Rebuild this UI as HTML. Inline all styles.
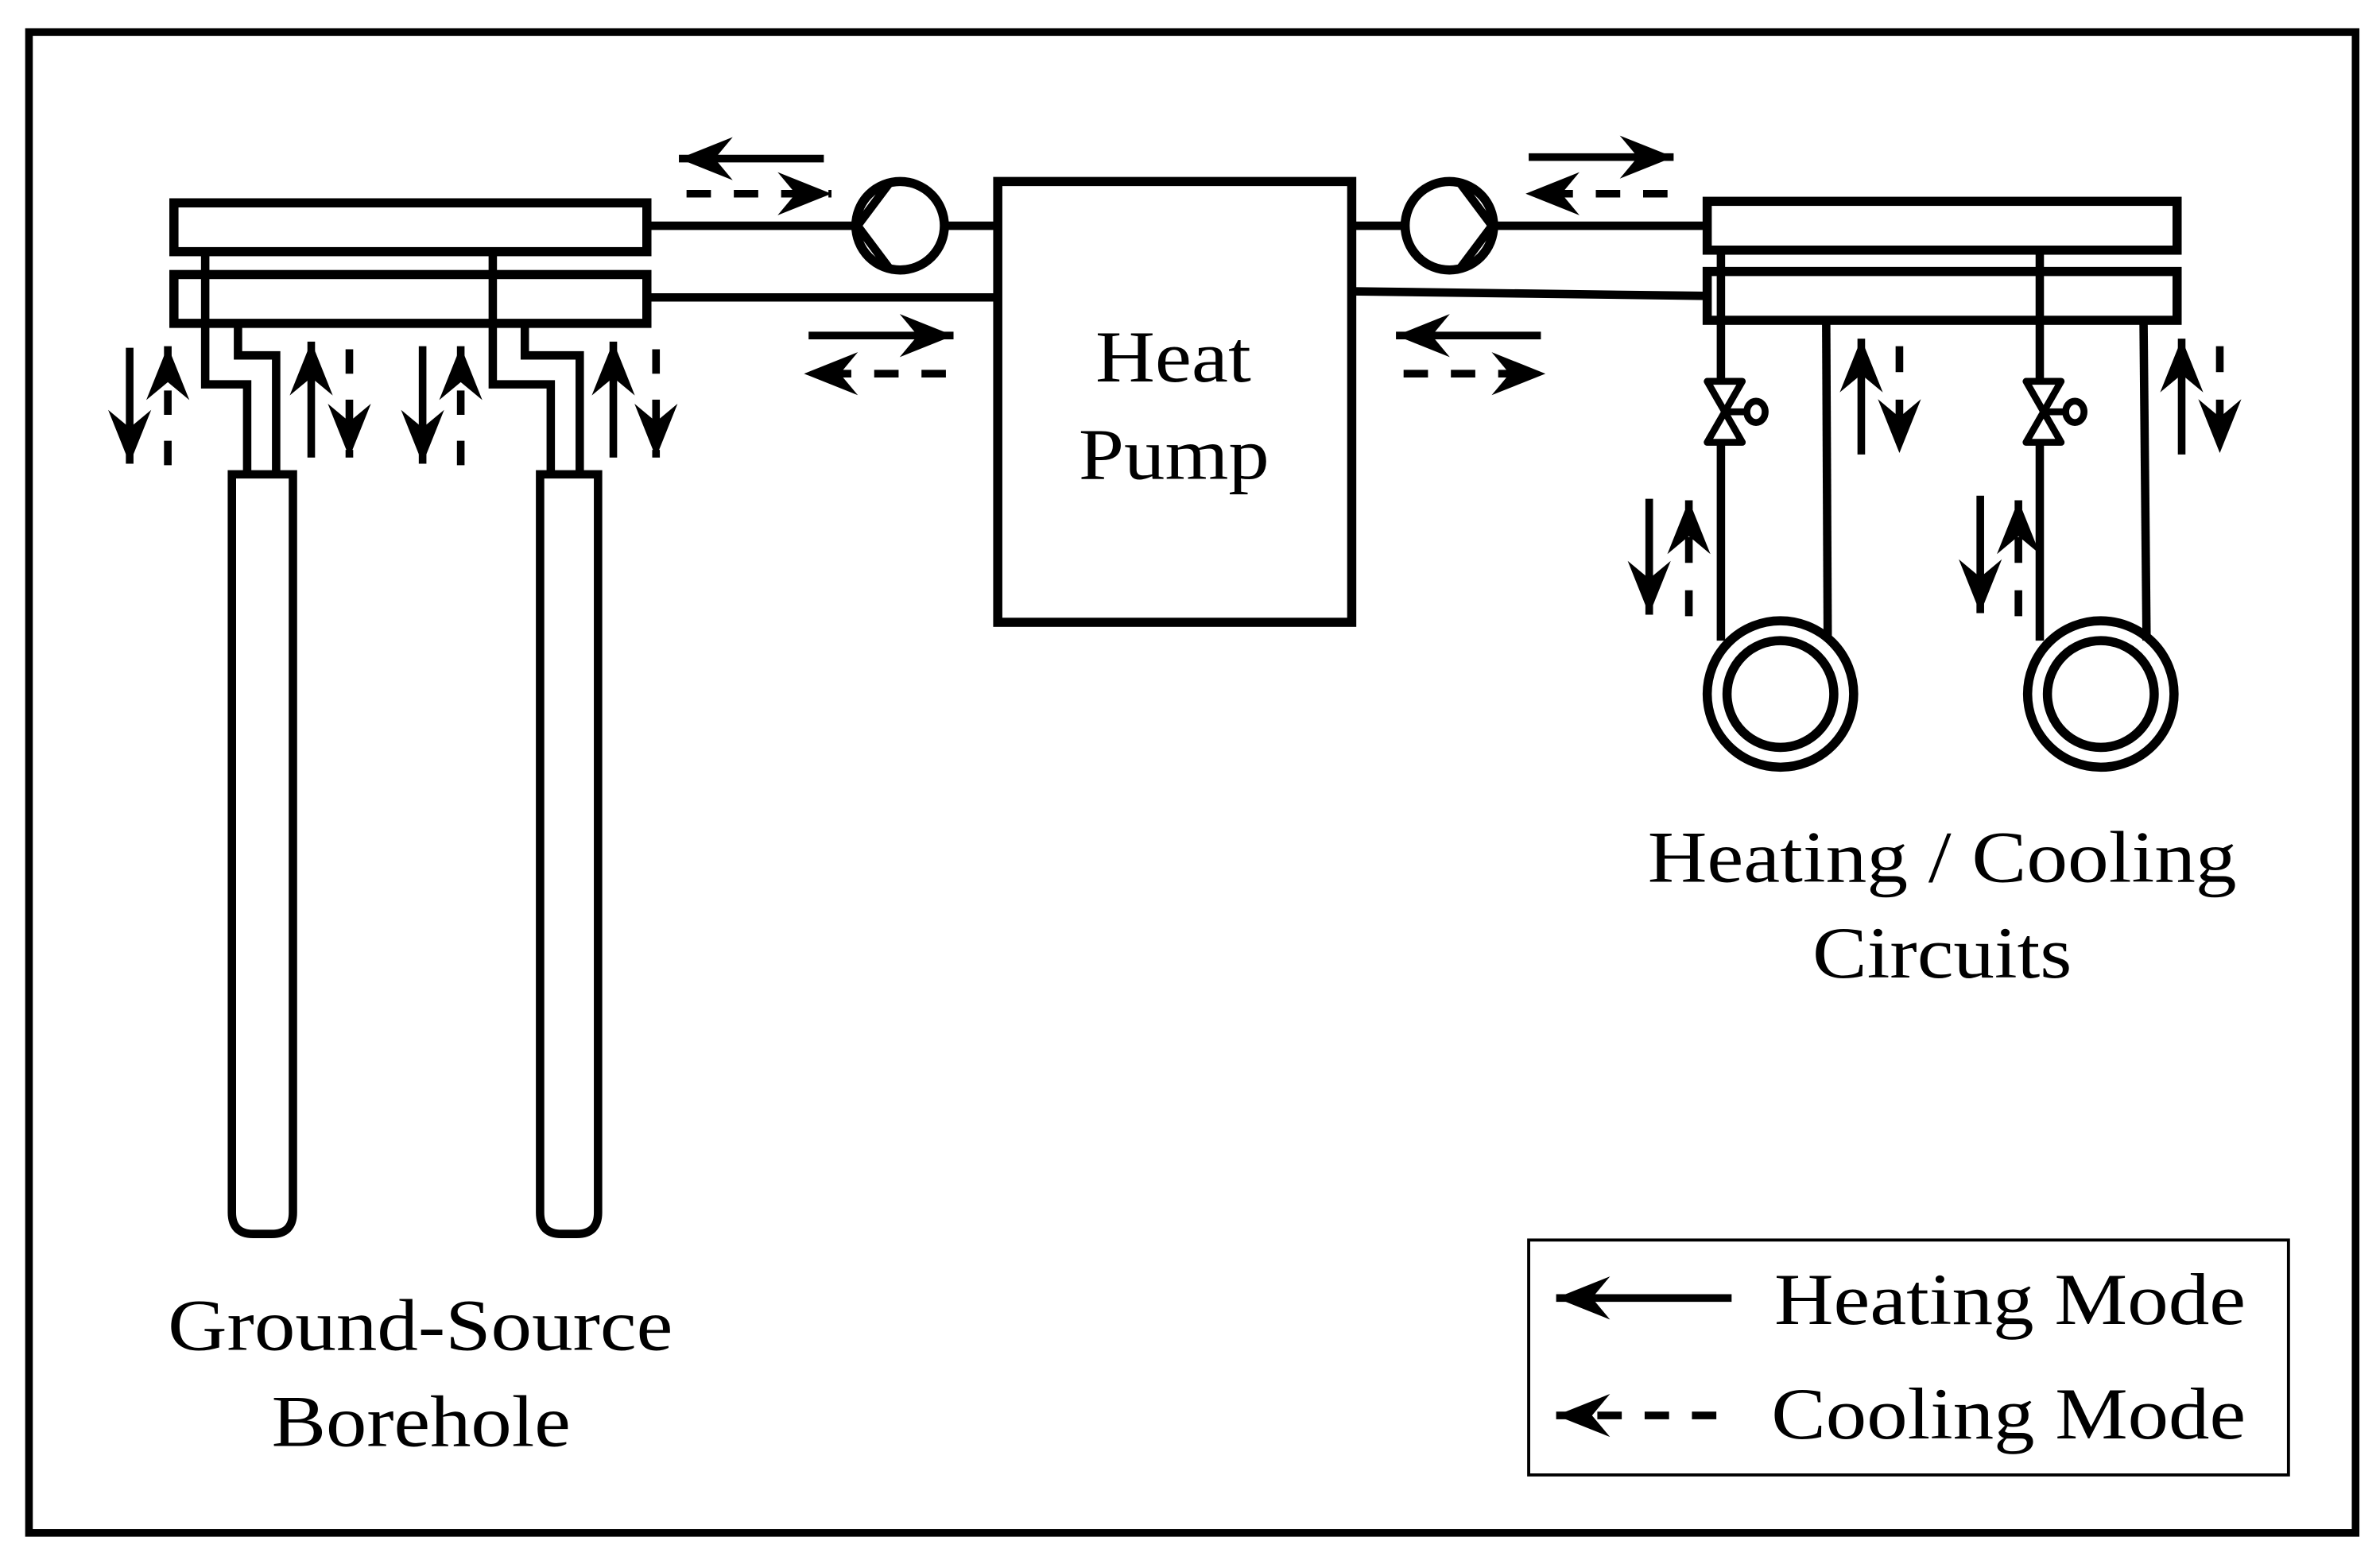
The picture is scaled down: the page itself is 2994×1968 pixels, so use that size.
<!DOCTYPE html>
<html><head><meta charset="utf-8"><style>
html,body{margin:0;padding:0;background:#fff;}
svg{display:block;}
text{font-family:"Liberation Serif",serif;fill:#000;}
</style></head><body>
<svg width="2994" height="1968" viewBox="0 0 1560 1025.4" preserveAspectRatio="none" xmlns="http://www.w3.org/2000/svg">
<defs>
<marker id="ah" markerUnits="userSpaceOnUse" markerWidth="40" markerHeight="40" viewBox="-32 -14 34 28" refX="0" refY="0" orient="auto">
<path d="M0,0 L-30,-12 L-20,0 L-30,12 Z" fill="#000"/>
</marker>
</defs>
<rect x="0" y="0" width="1560" height="1025.4" fill="#fff"/>
<rect x="19" y="21" width="1525" height="984" fill="none" stroke="#000" stroke-width="5"/>

<g fill="none" stroke="#000" stroke-width="6">
<rect x="114" y="133" width="310" height="32"/>
<rect x="114" y="180" width="310" height="32"/>
<rect x="1119" y="132" width="308" height="32"/>
<rect x="1119" y="178" width="308" height="32"/>
<rect x="654" y="119" width="232" height="289"/>
<circle cx="590" cy="148" r="29"/>
<circle cx="950" cy="148" r="29"/>
<circle cx="1167" cy="455" r="48"/>
<circle cx="1167" cy="455" r="35"/>
<circle cx="1377" cy="455" r="48"/>
<circle cx="1377" cy="455" r="35"/>
</g>

<g fill="none" stroke="#000" stroke-width="5.5">
<polyline points="583,120 562,148 583,176"/>
<polyline points="957,120 978,148 957,176"/>
<line x1="424" y1="148" x2="561" y2="148"/>
<line x1="619" y1="148" x2="654" y2="148"/>
<line x1="424" y1="195" x2="654" y2="195"/>
<line x1="886" y1="148" x2="921" y2="148"/>
<line x1="979" y1="148" x2="1119" y2="148"/>
<line x1="886" y1="191" x2="1119" y2="194"/>
<polyline points="134.5,165 134.5,252 162,252 162,310"/>
<polyline points="156,212 156,233 181,233 181,310"/>
<polyline points="323,165 323,252 361,252 361,310"/>
<polyline points="344,212 344,233 380,233 380,310"/>
<path d="M152,311 H192 V795 Q192,809 178,809 H166 Q152,809 152,795 Z"/>
<path d="M354,311 H392 V795 Q392,809 378,809 H368 Q354,809 354,795 Z"/>
<line x1="1128" y1="164" x2="1128" y2="250"/>
<line x1="1128" y1="290" x2="1128" y2="420"/>
<line x1="1197" y1="210" x2="1198" y2="420"/>
<line x1="1337" y1="164" x2="1337" y2="250"/>
<line x1="1337" y1="290" x2="1337" y2="420"/>
<line x1="1405" y1="210" x2="1407" y2="420"/>
</g>
<g fill="none" stroke="#000" stroke-width="4.5" stroke-linejoin="round">
<path d="M1119,250 H1142 L1119,290 H1142 Z"/>
<line x1="1131" y1="270" x2="1144" y2="270"/>
<ellipse cx="1151" cy="270" rx="6" ry="7"/>
<path d="M1328,250 H1351 L1328,290 H1351 Z"/>
<line x1="1340" y1="270" x2="1353" y2="270"/>
<ellipse cx="1360" cy="270" rx="6" ry="7"/>
</g>

<g fill="none" stroke="#000" stroke-width="5" marker-end="url(#ah)">
<line x1="85" y1="228" x2="85" y2="304"/>
<line x1="110" y1="305" x2="110" y2="227" stroke-dasharray="16 17"/>
<line x1="204" y1="300" x2="204" y2="224"/>
<line x1="229" y1="229" x2="229" y2="300" stroke-dasharray="16 17"/>
<line x1="277" y1="227" x2="277" y2="304"/>
<line x1="302" y1="305" x2="302" y2="227" stroke-dasharray="16 17"/>
<line x1="402" y1="300" x2="402" y2="224"/>
<line x1="430" y1="229" x2="430" y2="300" stroke-dasharray="16 17"/>
<line x1="540" y1="104" x2="445" y2="104"/>
<line x1="450" y1="127" x2="545" y2="127" stroke-dasharray="16 15"/>
<line x1="530" y1="220" x2="625" y2="220"/>
<line x1="620" y1="245" x2="527" y2="245" stroke-dasharray="16 15"/>
<line x1="1002" y1="103" x2="1097" y2="103"/>
<line x1="1093" y1="127" x2="1000" y2="127" stroke-dasharray="16 15"/>
<line x1="1010" y1="220" x2="915" y2="220"/>
<line x1="920" y1="245" x2="1013" y2="245" stroke-dasharray="16 15"/>
<line x1="1220" y1="298" x2="1220" y2="222"/>
<line x1="1245" y1="227" x2="1245" y2="297" stroke-dasharray="17 18"/>
<line x1="1430" y1="298" x2="1430" y2="222"/>
<line x1="1455" y1="227" x2="1455" y2="297" stroke-dasharray="17 18"/>
<line x1="1081" y1="327" x2="1081" y2="403"/>
<line x1="1107" y1="404" x2="1107" y2="328" stroke-dasharray="17 18"/>
<line x1="1298" y1="325" x2="1298" y2="402"/>
<line x1="1323" y1="404" x2="1323" y2="328" stroke-dasharray="17 18"/>
<line x1="1135" y1="851" x2="1020" y2="851"/>
<line x1="1125" y1="928" x2="1020" y2="928" stroke-dasharray="16 15"/>
</g>

<rect x="1002" y="813" width="498" height="154" fill="none" stroke="#000" stroke-width="2"/>

<g font-size="48">
<text x="718" y="250" textLength="102" lengthAdjust="spacingAndGlyphs">Heat</text>
<text x="707" y="314" textLength="125" lengthAdjust="spacingAndGlyphs">Pump</text>
<text x="1080" y="578" textLength="386" lengthAdjust="spacingAndGlyphs">Heating / Cooling</text>
<text x="1188" y="641" textLength="170" lengthAdjust="spacingAndGlyphs">Circuits</text>
<text x="110" y="885" textLength="331" lengthAdjust="spacingAndGlyphs">Ground-Source</text>
<text x="178" y="948" textLength="196" lengthAdjust="spacingAndGlyphs">Borehole</text>
<text x="1163" y="868" textLength="309" lengthAdjust="spacingAndGlyphs">Heating Mode</text>
<text x="1161" y="943" textLength="311" lengthAdjust="spacingAndGlyphs">Cooling Mode</text>
</g>
</svg>
</body></html>
